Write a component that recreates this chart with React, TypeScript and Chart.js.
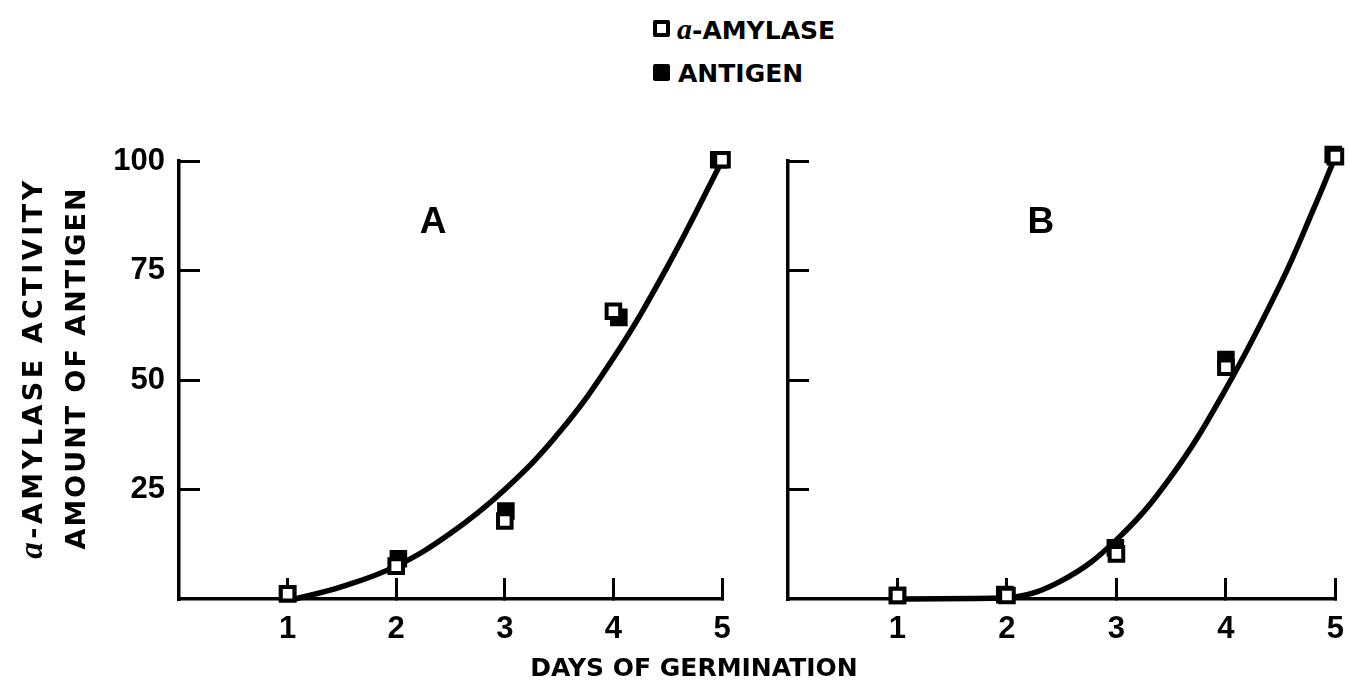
import React, { useEffect, useRef } from "react";
import { Chart, registerables } from "chart.js";

Chart.register(...registerables);

// ---- data ----
const xTickValues = [1, 2, 3, 4, 5];
const xTickLabels = ["1", "2", "3", "4", "5"];
const yTickValues = [25, 50, 75, 100];
const yTickLabels = ["25", "50", "75", "100"];

// Panel A
const panelADaysAmylase = [1, 2, 3, 4, 5];
const panelAAmylase = [1.2, 7.5, 17.8, 65.7, 100.3];
const panelADaysAntigen = [1, 2.02, 3.01, 4.05, 4.97];
const panelAAntigen = [1.2, 9.2, 20.1, 64.3, 100.3];
const panelACurveDays = [1.07, 1.5, 2, 2.5, 3, 3.5, 4, 4.5, 5];
const panelACurve = [0, 2.8, 7.5, 15, 25, 38, 55, 76, 100];

// Panel B
const panelBDaysAmylase = [1, 2, 3, 4, 5];
const panelBAmylase = [0.8, 0.8, 10.3, 52.9, 101];
const panelBDaysAntigen = [1, 1.98, 2.99, 4.0, 4.98];
const panelBAntigen = [0.8, 1.0, 11.7, 54.7, 101.5];
const panelBCurveDays = [1, 2, 2.5, 3, 3.5, 4, 4.5, 4.8, 5];
const panelBCurve = [0, 0.2, 4.2, 13.5, 28, 48, 72, 89, 101];

const FONT_TICK = "'Liberation Sans', Arial, sans-serif";
const FONT_TITLE = "'DejaVu Sans', sans-serif";
const FONT_ITALIC = "'Liberation Serif', serif";

const toPoints = (xs: number[], ys: number[]) => xs.map((x, i) => ({ x, y: ys[i] }));

const panelLetterPlugin = {
  id: "panelLetter",
  afterDatasetsDraw(chart: any, _args: any, opts: any) {
    if (!opts || !opts.text) return;
    const { ctx, scales } = chart;
    ctx.save();
    ctx.font = `bold 37px ${FONT_TICK}`;
    ctx.fillStyle = "#000";
    ctx.textAlign = "center";
    ctx.textBaseline = "middle";
    ctx.fillText(opts.text, scales.x.getPixelForValue(opts.x), scales.y.getPixelForValue(opts.y));
    ctx.restore();
  },
};

const yTitlePlugin = {
  id: "yTitle",
  afterDraw(chart: any, _args: any, opts: any) {
    if (!opts || !opts.lines) return;
    const ctx = chart.ctx;
    const size = opts.size;
    const fontFor = (part: any) =>
      part.italic ? `italic bold ${size + 6}px ${FONT_ITALIC}` : `bold ${size}px ${FONT_TITLE}`;
    for (const line of opts.lines) {
      ctx.save();
      ctx.translate(line.x, opts.centerY);
      ctx.rotate(-Math.PI / 2);
      ctx.fillStyle = "#000";
      ctx.textAlign = "left";
      ctx.textBaseline = "alphabetic";
      let total = 0;
      const widths: number[] = [];
      for (const part of line.parts) {
        ctx.font = fontFor(part);
        (ctx as any).letterSpacing = `${line.spacing}px`;
        const w = ctx.measureText(part.text).width;
        widths.push(w);
        total += w;
      }
      let pos = -total / 2;
      line.parts.forEach((part: any, i: number) => {
        ctx.font = fontFor(part);
        (ctx as any).letterSpacing = `${line.spacing}px`;
        ctx.fillText(part.text, pos, (size * 0.729) / 2);
        pos += widths[i];
      });
      ctx.restore();
    }
  },
};

function buildConfig(p: any) {
  const markerBase = {
    showLine: false,
    pointStyle: "rect",
    pointRadius: 9.6,
    pointHoverRadius: 9.6,
    pointBorderWidth: 4,
    pointBorderColor: "#000",
    clip: false,
  };
  const zeroPadding = (s: any) => {
    s.paddingLeft = 0;
    s.paddingRight = 0;
    s.paddingTop = 0;
    s.paddingBottom = 0;
  };
  return {
    type: "line",
    data: {
      datasets: [
        {
          ...markerBase,
          label: "a-AMYLASE",
          data: toPoints(p.amyX, p.amyY),
          pointBackgroundColor: "#fff",
          borderColor: "#000",
        },
        {
          ...markerBase,
          label: "ANTIGEN",
          data: toPoints(p.antX, p.antY),
          pointBackgroundColor: "#000",
          borderColor: "#000",
        },
        {
          label: "fit",
          data: toPoints(p.curveX, p.curveY),
          showLine: true,
          borderColor: "#000",
          borderWidth: 5.5,
          pointRadius: 0,
          tension: 0.4,
          borderCapStyle: "round",
          fill: false,
          clip: false,
        },
      ],
    },
    options: {
      animation: false,
      responsive: false,
      devicePixelRatio: 1,
      events: [],
      layout: { padding: p.padding },
      plugins: {
        legend: { display: false },
        tooltip: { enabled: false },
        title: { display: false },
        panelLetter: p.letter,
        yTitle: p.yTitle,
      },
      scales: {
        x: {
          type: "linear",
          min: 0,
          max: 5,
          afterBuildTicks: (s: any) => {
            s.ticks = xTickValues.map((value) => ({ value }));
          },
          afterFit: (s: any) => {
            s.height = p.xAxisHeight;
            zeroPadding(s);
          },
          ticks: {
            callback: (v: number) => {
              const i = xTickValues.indexOf(v);
              return i >= 0 ? xTickLabels[i] : "";
            },
            color: "#000",
            font: { family: FONT_TICK, weight: "bold", size: 31 },
            padding: 33,
            maxRotation: 0,
            minRotation: 0,
            autoSkip: false,
          },
          grid: {
            drawOnChartArea: false,
            drawTicks: true,
            tickLength: -21,
            tickWidth: 3,
            tickColor: "#000",
            lineWidth: 3,
            color: "#000",
          },
          border: { display: true, color: "#000", width: 3.5 },
        },
        y: {
          type: "linear",
          min: 0,
          max: 100,
          afterBuildTicks: (s: any) => {
            s.ticks = yTickValues.map((value) => ({ value }));
          },
          afterFit: (s: any) => {
            s.width = p.yAxisWidth;
            zeroPadding(s);
          },
          ticks: {
            callback: (v: number) => {
              if (!p.showYLabels) return "";
              const i = yTickValues.indexOf(v);
              return i >= 0 ? yTickLabels[i] : "";
            },
            color: "#000",
            font: { family: FONT_TICK, weight: "bold", size: 31 },
            padding: 35,
            autoSkip: false,
          },
          grid: {
            drawOnChartArea: false,
            drawTicks: true,
            tickLength: -21,
            tickWidth: 3,
            tickColor: "#000",
            lineWidth: 3,
            color: "#000",
          },
          border: { display: true, color: "#000", width: 3.5 },
        },
      },
    },
    plugins: [panelLetterPlugin, yTitlePlugin],
  } as any;
}

export default function App() {
  const refA = useRef<HTMLCanvasElement>(null);
  const refB = useRef<HTMLCanvasElement>(null);

  useEffect(() => {
    const chartA = new Chart(
      refA.current as HTMLCanvasElement,
      buildConfig({
        amyX: panelADaysAmylase,
        amyY: panelAAmylase,
        antX: panelADaysAntigen,
        antY: panelAAntigen,
        curveX: panelACurveDays,
        curveY: panelACurve,
        padding: { top: 61, right: 30, left: 0, bottom: 0 },
        xAxisHeight: 61,
        yAxisWidth: 179,
        showYLabels: true,
        letter: { text: "A", x: 2.34, y: 86 },
        yTitle: {
          size: 27,
          centerY: 268,
          lines: [
            { x: 32, spacing: 3.5, parts: [{ text: "a", italic: true }, { text: "-AMYLASE ACTIVITY" }] },
            { x: 75, spacing: 2, parts: [{ text: "AMOUNT OF ANTIGEN" }] },
          ],
        },
      })
    );
    const chartB = new Chart(
      refB.current as HTMLCanvasElement,
      buildConfig({
        amyX: panelBDaysAmylase,
        amyY: panelBAmylase,
        antX: panelBDaysAntigen,
        antY: panelBAntigen,
        curveX: panelBCurveDays,
        curveY: panelBCurve,
        padding: { top: 61, right: 12, left: 0, bottom: 0 },
        xAxisHeight: 61,
        yAxisWidth: 28,
        showYLabels: false,
        letter: { text: "B", x: 2.31, y: 86 },
        yTitle: null,
      })
    );
    return () => {
      chartA.destroy();
      chartB.destroy();
    };
  }, []);

  const textStyle: React.CSSProperties = {
    position: "absolute",
    fontFamily: FONT_TITLE,
    fontWeight: "bold",
    fontSize: 25,
    lineHeight: "25px",
    color: "#000",
    whiteSpace: "nowrap",
  };

  return (
    <div
      style={{
        position: "absolute",
        left: 0,
        top: 0,
        width: 1349,
        height: 685,
        background: "#fff",
        overflow: "hidden",
      }}
    >
      {/* legend */}
      <div
        style={{
          position: "absolute",
          left: 653,
          top: 20,
          width: 17,
          height: 17,
          border: "4px solid #000",
          boxSizing: "border-box",
          borderRadius: 2,
          background: "#fff",
        }}
      />
      <div style={{ ...textStyle, left: 677, top: 16 }}>
        <span style={{ fontFamily: FONT_ITALIC, fontStyle: "italic", fontSize: 30 }}>a</span>-AMYLASE
      </div>
      <div
        style={{
          position: "absolute",
          left: 653,
          top: 64,
          width: 17,
          height: 17,
          background: "#000",
          borderRadius: 2,
        }}
      />
      <div style={{ ...textStyle, left: 678, top: 61 }}>ANTIGEN</div>

      <canvas
        ref={refA}
        width={752}
        height={560}
        style={{ position: "absolute", left: 0, top: 100, width: 752, height: 560 }}
      />
      <canvas
        ref={refB}
        width={589}
        height={560}
        style={{ position: "absolute", left: 760, top: 100, width: 589, height: 560 }}
      />

      {/* x axis title */}
      <div
        style={{
          ...textStyle,
          left: 694,
          top: 655,
          transform: "translateX(-50%)",
        }}
      >
        DAYS OF GERMINATION
      </div>
    </div>
  );
}
